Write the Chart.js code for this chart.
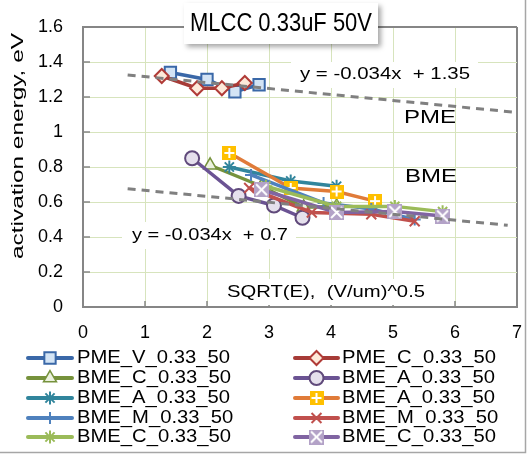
<!DOCTYPE html>
<html>
<head>
<meta charset="utf-8">
<script src="https://cdn.jsdelivr.net/npm/chart.js@4.4.0/dist/chart.umd.min.js"></script>
<style>
    html, body { margin: 0; padding: 0; background: #fff; }
</style>
</head>
<body>
<canvas id="eaChart" width="527" height="454"></canvas>
<script>
const FONT = "'Liberation Sans', Arial, sans-serif";

// axis ticks
const xTicks = [0, 1, 2, 3, 4, 5, 6, 7];
const yTicks = [0, 0.2, 0.4, 0.6, 0.8, 1, 1.2, 1.4, 1.6];

// series, in legend order (row by row)
const seriesNames = [
    'PME_V_0.33_50', 'PME_C_0.33_50',
    'BME_C_0.33_50', 'BME_A_0.33_50',
    'BME_A_0.33_50', 'BME_A_0.33_50',
    'BME_M_0.33_50', 'BME_M_0.33_50',
    'BME_C_0.33_50', 'BME_C_0.33_50'
];

const pmeV_x = [1.41, 2.0, 2.45, 2.84];
const pmeV_y = [1.34, 1.30, 1.23, 1.27];
const pmeC_x = [1.27, 1.84, 2.24, 2.61];
const pmeC_y = [1.32, 1.25, 1.25, 1.28];
const bmeC1_x = [2.05, 2.88, 3.56, 4.09];
const bmeC1_y = [0.81, 0.69, 0.57, 0.575];
const bmeA1_x = [1.76, 2.51, 3.08, 3.54];
const bmeA1_y = [0.85, 0.635, 0.58, 0.51];
const bmeA2_x = [2.36, 3.35, 4.09];
const bmeA2_y = [0.80, 0.72, 0.69];
const bmeA3_x = [2.36, 3.35, 4.09, 4.71];
const bmeA3_y = [0.88, 0.68, 0.66, 0.605];
const bmeM1_x = [2.71, 3.88, 4.65, 5.35];
const bmeM1_y = [0.755, 0.595, 0.56, 0.50];
const bmeM2_x = [2.68, 3.69, 4.65, 5.35];
const bmeM2_y = [0.68, 0.54, 0.53, 0.49];
const bmeC2_x = [2.95, 4.09, 5.03, 5.8];
const bmeC2_y = [0.69, 0.575, 0.575, 0.545];
const bmeC3_x = [2.88, 4.09, 5.03, 5.8];
const bmeC3_y = [0.67, 0.54, 0.545, 0.52];

// trend lines (end points)
const trendPme_x = [0.72, 7.0];
const trendPme_y = [1.326, 1.112];
const trendBme_x = [0.72, 6.85];
const trendBme_y = [0.676, 0.467];

function boxMarker(size, fill, mark) {
    const c = document.createElement('canvas');
    c.width = size;
    c.height = size;
    const g = c.getContext('2d');
    g.fillStyle = fill;
    g.fillRect(0, 0, size, size);
    g.strokeStyle = '#fff';
    g.lineWidth = 2;
    g.beginPath();
    if (mark === 'plus') {
        g.moveTo(size / 2, 2); g.lineTo(size / 2, size - 2);
        g.moveTo(2, size / 2); g.lineTo(size - 2, size / 2);
    } else {
        g.moveTo(2, 2); g.lineTo(size - 2, size - 2);
        g.moveTo(size - 2, 2); g.lineTo(2, size - 2);
    }
    g.stroke();
    return c;
}

const plusBox = boxMarker(14, '#ffc000', 'plus');
const crossBox = boxMarker(15, '#b3a2c7', 'x');

const looks = [
    { line: '#3a68a8', style: 'rect', r: 8, fill: '#d3e4f5', edge: '#3a68a8', bw: 2 },
    { line: '#a63b37', style: 'rectRot', r: 7, fill: '#fde9d9', edge: '#b03b37', bw: 2 },
    { line: '#76923c', style: 'triangle', r: 7.5, fill: '#ebf1de', edge: '#76923c', bw: 1.5 },
    { line: '#6b5393', style: 'circle', r: 7, fill: '#e5e0ec', edge: '#604a7b', bw: 2 },
    { line: '#31859c', style: 'star', r: 6.5, fill: '#31859c', edge: '#31859c', bw: 2 },
    { line: '#e07b39', style: plusBox, r: 7, fill: '#ffc000', edge: '#ffc000', bw: 0 },
    { line: '#4f81bd', style: 'cross', r: 6, fill: '#4f81bd', edge: '#4f81bd', bw: 2 },
    { line: '#c0504d', style: 'crossRot', r: 7, fill: '#c0504d', edge: '#c0504d', bw: 2 },
    { line: '#9bbb59', style: 'star', r: 6.5, fill: '#9bbb59', edge: '#9bbb59', bw: 2 },
    { line: '#8064a2', style: crossBox, r: 7.5, fill: '#b3a2c7', edge: '#b3a2c7', bw: 0 }
];

const seriesX = [pmeV_x, pmeC_x, bmeC1_x, bmeA1_x, bmeA2_x, bmeA3_x, bmeM1_x, bmeM2_x, bmeC2_x, bmeC3_x];
const seriesY = [pmeV_y, pmeC_y, bmeC1_y, bmeA1_y, bmeA2_y, bmeA3_y, bmeM1_y, bmeM2_y, bmeC2_y, bmeC3_y];

function pts(xs, ys) {
    return xs.map((x, i) => ({ x: x, y: ys[i] }));
}

const datasets = seriesNames.map((name, i) => ({
    label: name,
    data: pts(seriesX[i], seriesY[i]),
    showLine: true,
    borderColor: looks[i].line,
    borderWidth: 3.5,
    pointStyle: looks[i].style,
    pointRadius: looks[i].r,
    pointBackgroundColor: looks[i].fill,
    pointBorderColor: looks[i].edge,
    pointBorderWidth: looks[i].bw,
    order: 10 - i
}));

[[trendPme_x, trendPme_y], [trendBme_x, trendBme_y]].forEach(t => {
    datasets.push({
        label: 'trend',
        data: pts(t[0], t[1]),
        showLine: true,
        borderColor: '#808080',
        borderWidth: 3,
        borderDash: [8, 6],
        pointRadius: 0,
        order: 0
    });
});

function fitText(ctx, str, cx, cy, px, w, angle) {
    ctx.save();
    ctx.font = px + 'px ' + FONT;
    const sx = w / ctx.measureText(str).width;
    ctx.translate(cx, cy);
    if (angle) ctx.rotate(angle);
    ctx.scale(sx, 1);
    ctx.textAlign = 'center';
    ctx.textBaseline = 'middle';
    ctx.fillStyle = '#000';
    ctx.fillText(str, 0, 0);
    ctx.restore();
}

function whiteBox(ctx, x, y, w, h) {
    ctx.fillStyle = '#fff';
    ctx.fillRect(x, y, w, h);
}

const decor = {
    id: 'decor',
    beforeDatasetsDraw(chart) {
        const ctx = chart.ctx;
        const a = chart.chartArea;
        ctx.save();
        ctx.strokeStyle = '#868686';
        ctx.lineWidth = 1.5;
        ctx.beginPath();
        yTicks.forEach(v => {
            const y = chart.scales.y.getPixelForValue(v);
            ctx.moveTo(a.left, y); ctx.lineTo(a.left + 7, y);
        });
        xTicks.forEach(v => {
            const x = chart.scales.x.getPixelForValue(v);
            ctx.moveTo(x, a.bottom); ctx.lineTo(x, a.bottom - 6);
        });
        ctx.stroke();
        ctx.restore();
    },
    afterDatasetsDraw(chart) {
        const ctx = chart.ctx;
        ctx.save();
        whiteBox(ctx, 291, 62, 187, 26);
        fitText(ctx, 'y = -0.034x  + 1.35', 385, 74, 17, 170);
        fitText(ctx, 'PME', 430, 118, 18, 52);
        fitText(ctx, 'BME', 431, 177, 18, 52);
        whiteBox(ctx, 122, 222, 174, 27);
        fitText(ctx, 'y = -0.034x  + 0.7', 210, 235, 17, 156);
        whiteBox(ctx, 218, 279, 214, 26);
        fitText(ctx, 'SQRT(E),  (V/um)^0.5', 326, 292, 17, 198);
        ctx.restore();
    },
    afterDraw(chart) {
        const ctx = chart.ctx;
        ctx.save();

        // title box with shadow
        ctx.shadowColor = 'rgba(0,0,0,0.35)';
        ctx.shadowBlur = 5;
        ctx.shadowOffsetX = 3;
        ctx.shadowOffsetY = 3;
        whiteBox(ctx, 184, 3, 194, 41);
        ctx.shadowColor = 'transparent';
        fitText(ctx, 'MLCC 0.33uF 50V', 281, 24, 25, 182);

        // y axis title
        fitText(ctx, 'activation energy, eV', 19, 146, 16, 226, -Math.PI / 2);

        // legend, two columns
        ctx.font = '18px ' + FONT;
        const sx = 153 / ctx.measureText(seriesNames[0]).width;
        const cols = [{ l: 28, r: 72, t: 77 }, { l: 295, r: 338, t: 342 }];
        const rows = [358, 378, 398, 418, 437];
        seriesNames.forEach((name, i) => {
            const c = cols[i % 2];
            const y = rows[Math.floor(i / 2)];
            const k = looks[i];
            ctx.strokeStyle = k.line;
            ctx.lineWidth = 4;
            ctx.lineCap = 'round';
            ctx.beginPath();
            ctx.moveTo(c.l, y); ctx.lineTo(c.r, y);
            ctx.stroke();
            ctx.lineCap = 'butt';
            ctx.fillStyle = k.fill;
            ctx.strokeStyle = k.edge;
            ctx.lineWidth = k.bw;
            Chart.helpers.drawPoint(ctx, { pointStyle: k.style, radius: k.r, borderWidth: k.bw, rotation: 0 }, (c.l + c.r) / 2, y);
            ctx.save();
            ctx.translate(c.t, y);
            ctx.scale(sx, 1);
            ctx.fillStyle = '#000';
            ctx.textAlign = 'left';
            ctx.textBaseline = 'middle';
            ctx.fillText(name, 0, 0);
            ctx.restore();
        });

        // outer frame (right and bottom)
        ctx.strokeStyle = '#a6a6a6';
        ctx.lineWidth = 1.5;
        ctx.beginPath();
        ctx.moveTo(525.5, 0); ctx.lineTo(525.5, 452.5); ctx.lineTo(0, 452.5);
        ctx.stroke();
        ctx.restore();
    }
};

const edgeGray = '#868686';
const gridGreen = '#d7e4bd';

new Chart(document.getElementById('eaChart'), {
    type: 'scatter',
    data: { datasets: datasets },
    options: {
        responsive: false,
        animation: false,
        layout: { padding: { left: 0, top: 27, right: 7, bottom: 0 } },
        plugins: {
            legend: { display: false },
            tooltip: { enabled: false }
        },
        scales: {
            x: {
                type: 'linear',
                min: 0,
                max: 7,
                afterFit(s) {
                    s.height = 147;
                    s.paddingLeft = 0;
                    s.paddingRight = 0;
                },
                afterBuildTicks(s) { s.ticks = xTicks.map(v => ({ value: v })); },
                grid: {
                    color: c => (c.tick && c.tick.value === 7 ? edgeGray : gridGreen),
                    lineWidth: c => (c.tick && c.tick.value === 7 ? 2 : 1),
                    drawTicks: false
                },
                border: { color: edgeGray, width: 2 },
                ticks: {
                    padding: 15,
                    color: '#000',
                    autoSkip: false,
                    maxRotation: 0,
                    font: { family: FONT, size: 18 },
                    callback: v => String(v)
                }
            },
            y: {
                type: 'linear',
                min: 0,
                max: 1.6,
                afterFit(s) {
                    s.width = 83;
                    s.paddingTop = 0;
                    s.paddingBottom = 0;
                },
                afterBuildTicks(s) { s.ticks = yTicks.map(v => ({ value: v })); },
                grid: {
                    color: c => (c.tick && c.tick.value === 1.6 ? edgeGray : gridGreen),
                    lineWidth: c => (c.tick && c.tick.value === 1.6 ? 2 : 1),
                    drawTicks: false
                },
                border: { color: edgeGray, width: 2 },
                ticks: {
                    padding: 20,
                    color: '#000',
                    font: { family: FONT, size: 18 },
                    callback: v => String(v)
                }
            }
        }
    },
    plugins: [decor]
});
</script>
</body>
</html>
